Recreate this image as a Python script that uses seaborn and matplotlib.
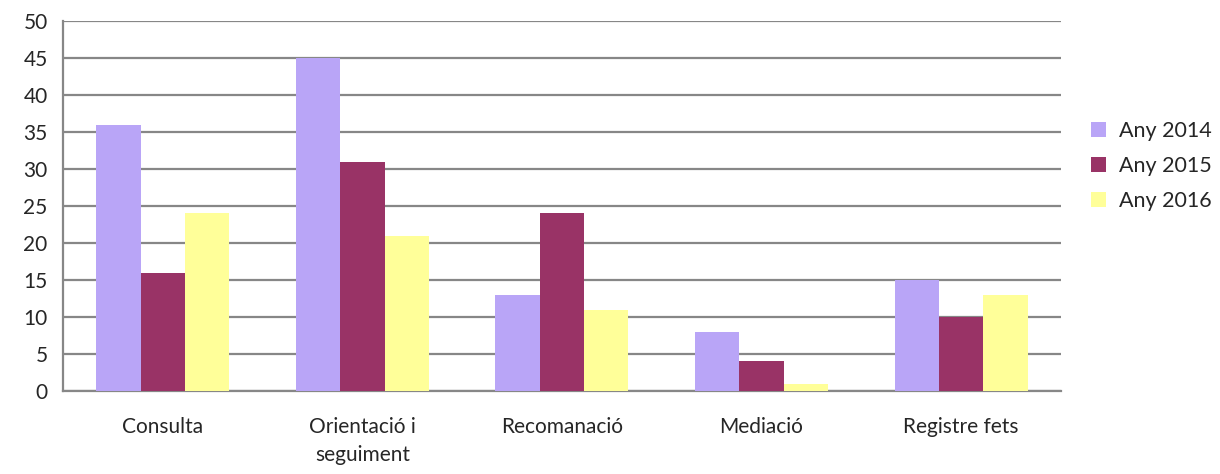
import matplotlib
matplotlib.use("Agg")
import matplotlib.pyplot as plt
import seaborn as sns
import pandas as pd

categories = ["Consulta", "Orientació i\nseguiment", "Recomanació", "Mediació", "Registre fets"]
years = ["Any 2014", "Any 2015", "Any 2016"]
any_2014 = [36, 45, 13, 8, 15]
any_2015 = [16, 31, 24, 4, 10]
any_2016 = [24, 21, 11, 1, 13]
colors = ["#B9A5F7", "#993366", "#FFFF99"]

df = pd.DataFrame({
    "categoria": categories * 3,
    "any": [y for y in years for _ in categories],
    "valor": any_2014 + any_2015 + any_2016,
})

sns.set_style("white")
plt.rcParams["font.family"] = ["Lato", "DejaVu Sans"]

fig = plt.figure(figsize=(12.2, 4.74), dpi=100)
ax = fig.add_axes([0.0516, 0.175, 0.818, 0.781])

sns.barplot(data=df, x="categoria", y="valor", hue="any", palette=colors,
            width=0.667, saturation=1, linewidth=0, ax=ax, legend=True, zorder=3)

ax.set_ylim(0, 50)
ax.set_xlim(-0.5, len(categories) - 0.5)
ax.set_yticks(range(0, 51, 5))
ax.yaxis.grid(True, color="#878787", linewidth=1.6, zorder=0)
ax.set_axisbelow(True)
ax.set_xlabel("")
ax.set_ylabel("")

for s in ["top", "right"]:
    ax.spines[s].set_visible(False)
for s in ["left", "bottom"]:
    ax.spines[s].set_color("#878787")
    ax.spines[s].set_linewidth(1.6)

ax.tick_params(axis="y", length=7, width=1.6, color="#878787", labelsize=15, pad=4)
ax.tick_params(axis="x", which="major", length=0, labelsize=15, pad=19)
for lbl in ax.get_xticklabels():
    lbl.set_linespacing(1.5)
ax.set_xticks([i - 0.5 for i in range(len(categories) + 1)], minor=True)
ax.tick_params(axis="x", which="minor", length=7, width=1.6, color="#878787")

handles, labels = ax.get_legend_handles_labels()
ax.get_legend().remove()
fig.legend(handles, labels, loc="center left", bbox_to_anchor=(0.878, 0.65),
           frameon=False, fontsize=15.5, handlelength=0.7, handleheight=0.7,
           handletextpad=0.6, labelspacing=0.7)

fig.savefig("out.png", dpi=100)
